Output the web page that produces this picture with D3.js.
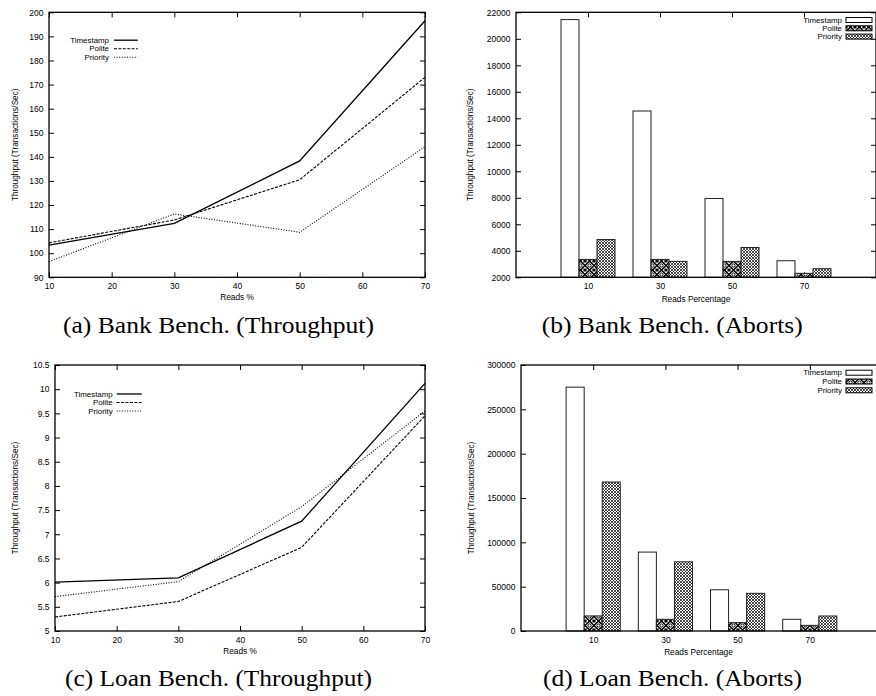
<!DOCTYPE html>
<html>
<head>
<meta charset="utf-8">
<script src="https://cdn.jsdelivr.net/npm/d3@7"></script>
<style>
  html, body { margin: 0; padding: 0; background: #fff; }
  svg { display: block; }
  .tick text { font-family: "Liberation Sans", Arial, sans-serif; font-size: 8.5px; fill: #000; }
</style>
</head>
<body>
<svg id="chart" width="876" height="696"></svg>
<script>
// ---------- DATA ----------
const seriesNames = ["Timestamp", "Polite", "Priority"];

// (a) Bank Bench. (Throughput)
const bankReads = [10, 30, 50, 70];
const bankThroughputTimestamp = [103.4, 112.4, 138.3, 196.5];
const bankThroughputPolite    = [104.3, 113.8, 130.5, 173.0];
const bankThroughputPriority  = [96.5, 116.3, 108.7, 144.2];
const bankThroughputYTicks = [90, 100, 110, 120, 130, 140, 150, 160, 170, 180, 190, 200];
const lineXTicks = [10, 20, 30, 40, 50, 60, 70];

// (b) Bank Bench. (Aborts)
const abortCategories = ["10", "30", "50", "70"];
const bankAbortsTimestamp = [21450, 14550, 7950, 3250];
const bankAbortsPolite    = [3350, 3350, 3200, 2300];
const bankAbortsPriority  = [4850, 3200, 4250, 2650];
const bankAbortsYTicks = [2000, 4000, 6000, 8000, 10000, 12000, 14000, 16000, 18000, 20000, 22000];

// (c) Loan Bench. (Throughput)
const loanReads = [10, 30, 50, 70];
const loanThroughputTimestamp = [6.01, 6.10, 7.27, 10.12];
const loanThroughputPolite    = [5.29, 5.61, 6.73, 9.45];
const loanThroughputPriority  = [5.71, 6.02, 7.57, 9.55];
const loanThroughputYTicks = [5, 5.5, 6, 6.5, 7, 7.5, 8, 8.5, 9, 9.5, 10, 10.5];

// (d) Loan Bench. (Aborts)
const loanAbortsTimestamp = [275000, 89000, 46500, 13200];
const loanAbortsPolite    = [17000, 13200, 9400, 6400];
const loanAbortsPriority  = [168000, 78000, 42500, 16900];
const loanAbortsYTicks = [0, 50000, 100000, 150000, 200000, 250000, 300000];

const captions = ["(a) Bank Bench. (Throughput)", "(b) Bank Bench. (Aborts)",
                  "(c) Loan Bench. (Throughput)", "(d) Loan Bench. (Aborts)"];
const xTitleLine = "Reads %";
const xTitleBar = "Reads Percentage";
const yTitle = "Throughput (Transactions/Sec)";

// ---------- DRAWING ----------
const svg = d3.select("#chart");
const defs = svg.append("defs");
const FONT = '"Liberation Sans", Arial, sans-serif';

// fill patterns for bars
const pPolite = defs.append("pattern").attr("id", "patPolite")
  .attr("patternUnits", "userSpaceOnUse").attr("width", 9).attr("height", 9);
pPolite.append("rect").attr("width", 9).attr("height", 9).attr("fill", "#fff");
pPolite.append("path").attr("d", "M0,4.5 L4.5,0 L9,4.5 L4.5,9 Z").attr("fill", "none").attr("stroke", "#000").attr("stroke-width", 1.5);
pPolite.append("circle").attr("cx", 4.5).attr("cy", 4.5).attr("r", 1.6).attr("fill", "none").attr("stroke", "#000").attr("stroke-width", 1);
pPolite.append("path").attr("d", "M0,0 h1.6 v1.6 h-1.6z M7.4,0 h1.6 v1.6 h-1.6z M0,7.4 h1.6 v1.6 h-1.6z M7.4,7.4 h1.6 v1.6 h-1.6z").attr("fill", "#000");

const pPriority = defs.append("pattern").attr("id", "patPriority")
  .attr("patternUnits", "userSpaceOnUse").attr("width", 3).attr("height", 3);
pPriority.append("rect").attr("width", 3).attr("height", 3).attr("fill", "#fff");
pPriority.append("path").attr("d", "M0,0 L3,3 M3,0 L0,3").attr("stroke", "#000").attr("stroke-width", 0.7);

const lineStyles = [
  { dash: null },
  { dash: "3,1.4" },
  { dash: "1,1.6" }
];
const barFills = ["#fff", "url(#patPolite)", "url(#patPriority)"];

function frame(g, L) {
  g.append("rect").attr("x", L.left).attr("y", L.top)
    .attr("width", L.right - L.left).attr("height", L.bottom - L.top)
    .attr("fill", "none").attr("stroke", "#000").attr("stroke-width", 1.3);
}

function styleAxis(sel) {
  sel.select(".domain").remove();
  sel.selectAll(".tick line").attr("stroke", "#000").attr("stroke-width", 1);
  sel.selectAll(".tick text").attr("font-family", FONT).attr("font-size", "8.5px");
}

function titles(g, L, xTitle, xTitleY, yTitleX) {
  g.append("text").attr("x", (L.left + Math.min(L.right, 876)) / 2).attr("y", xTitleY)
    .attr("text-anchor", "middle").attr("font-family", FONT).attr("font-size", "8.3px").text(xTitle);
  g.append("text")
    .attr("transform", `translate(${yTitleX},${(L.top + L.bottom) / 2}) rotate(-90)`)
    .attr("text-anchor", "middle").attr("dominant-baseline", "central")
    .attr("font-family", FONT).attr("font-size", "8.2px").text(yTitle);
}

function linePanel(L, xs, seriesVals, yDomain, yTicks, legendPos) {
  const g = svg.append("g");
  const x = d3.scaleLinear().domain([10, 70]).range([L.left, L.right]);
  const y = d3.scaleLinear().domain(yDomain).range([L.bottom, L.top]);

  g.append("g").attr("transform", `translate(${L.left},0)`)
    .call(d3.axisLeft(y).tickValues(yTicks).tickSizeInner(-5).tickSizeOuter(0).tickPadding(5.5).tickFormat(d3.format("")))
    .call(styleAxis);
  g.append("g").attr("transform", `translate(${L.right},0)`)
    .call(d3.axisRight(y).tickValues(yTicks).tickSizeInner(-5).tickSizeOuter(0).tickFormat(""))
    .call(styleAxis);
  g.append("g").attr("transform", `translate(0,${L.bottom})`)
    .call(d3.axisBottom(x).tickValues(lineXTicks).tickSizeInner(-5).tickSizeOuter(0).tickPadding(5.8).tickFormat(d3.format("")))
    .call(styleAxis);
  g.append("g").attr("transform", `translate(0,${L.top})`)
    .call(d3.axisTop(x).tickValues(lineXTicks).tickSizeInner(-5).tickSizeOuter(0).tickFormat(""))
    .call(styleAxis);

  const line = d3.line().x((d, i) => x(xs[i])).y(d => y(d));
  seriesVals.forEach((vals, k) => {
    g.append("path").datum(vals).attr("d", line)
      .attr("fill", "none").attr("stroke", "#000").attr("stroke-width", k === 0 ? 1.3 : 1.1)
      .attr("stroke-dasharray", lineStyles[k].dash);
  });

  // legend
  seriesNames.forEach((name, k) => {
    const yy = legendPos.y + k * legendPos.dy;
    g.append("text").attr("x", legendPos.textRight).attr("y", yy)
      .attr("text-anchor", "end").attr("dominant-baseline", "central")
      .attr("font-family", FONT).attr("font-size", "7.9px").text(name);
    g.append("line").attr("x1", legendPos.x1).attr("x2", legendPos.x2).attr("y1", yy).attr("y2", yy)
      .attr("stroke", "#000").attr("stroke-width", k === 0 ? 1.3 : 1.1)
      .attr("stroke-dasharray", lineStyles[k].dash);
  });

  frame(g, L);
  return g;
}

function barPanel(L, cats, seriesVals, yDomain, yTicks, legendPos) {
  const g = svg.append("g");
  const x = d3.scaleLinear().domain([-1, 4]).range([L.left, L.right]);
  const y = d3.scaleLinear().domain(yDomain).range([L.bottom, L.top]);
  const idx = cats.map((c, i) => i);

  g.append("g").attr("transform", `translate(${L.left},0)`)
    .call(d3.axisLeft(y).tickValues(yTicks).tickSizeInner(-5).tickSizeOuter(0).tickPadding(5.5).tickFormat(d3.format("")))
    .call(styleAxis);
  g.append("g").attr("transform", `translate(${L.right},0)`)
    .call(d3.axisRight(y).tickValues(yTicks).tickSizeInner(-5).tickSizeOuter(0).tickFormat(""))
    .call(styleAxis);
  g.append("g").attr("transform", `translate(0,${L.bottom})`)
    .call(d3.axisBottom(x).tickValues(idx).tickSizeInner(-5).tickSizeOuter(0).tickPadding(5.8).tickFormat(i => cats[i]))
    .call(styleAxis);
  g.append("g").attr("transform", `translate(0,${L.top})`)
    .call(d3.axisTop(x).tickValues(idx).tickSizeInner(-5).tickSizeOuter(0).tickFormat(""))
    .call(styleAxis);

  const bw = 0.25;
  seriesVals.forEach((vals, k) => {
    g.selectAll(null).data(vals).enter().append("rect")
      .attr("x", (d, i) => x(i - 0.375 + k * bw))
      .attr("width", x(bw) - x(0))
      .attr("y", d => y(d))
      .attr("height", d => y(yDomain[0]) - y(d))
      .attr("fill", barFills[k])
      .attr("stroke", "#222").attr("stroke-width", 1);
  });

  seriesNames.forEach((name, k) => {
    const yy = legendPos.y + k * legendPos.dy;
    g.append("text").attr("x", legendPos.textRight).attr("y", yy)
      .attr("text-anchor", "end").attr("dominant-baseline", "central")
      .attr("font-family", FONT).attr("font-size", "7.9px").text(name);
    g.append("rect").attr("x", legendPos.x1).attr("y", yy - 2.5)
      .attr("width", legendPos.x2 - legendPos.x1).attr("height", 5)
      .attr("fill", barFills[k]).attr("stroke", "#000").attr("stroke-width", 1);
  });

  frame(g, L);
  return g;
}

// layouts
const LA = { left: 49, right: 425, top: 12.3, bottom: 277.3 };
const LB = { left: 516, right: 876, top: 12.3, bottom: 277.3 };
const LC = { left: 55, right: 425, top: 365, bottom: 631 };
const LD = { left: 521, right: 882, top: 365, bottom: 631 };

const gA = linePanel(LA, bankReads,
  [bankThroughputTimestamp, bankThroughputPolite, bankThroughputPriority],
  [90, 200], bankThroughputYTicks,
  { y: 40.2, dy: 8.5, textRight: 109, x1: 114, x2: 137.7 });
titles(gA, LA, xTitleLine, 300, 15);

const gB = barPanel(LB, abortCategories,
  [bankAbortsTimestamp, bankAbortsPolite, bankAbortsPriority],
  [2000, 22000], bankAbortsYTicks,
  { y: 20, dy: 8.3, textRight: 842, x1: 846, x2: 872 });
titles(gB, { left: 516, right: 876, top: 12.3, bottom: 277.3 }, xTitleBar, 301.5, 470.5);

const gC = linePanel(LC, loanReads,
  [loanThroughputTimestamp, loanThroughputPolite, loanThroughputPriority],
  [5, 10.5], loanThroughputYTicks,
  { y: 394, dy: 8.5, textRight: 112.7, x1: 116.7, x2: 141.7 });
titles(gC, LC, xTitleLine, 654, 15.5);

const gD = barPanel(LD, abortCategories,
  [loanAbortsTimestamp, loanAbortsPolite, loanAbortsPriority],
  [0, 300000], loanAbortsYTicks,
  { y: 372.7, dy: 8.8, textRight: 842, x1: 846, x2: 872 });
titles(gD, { left: 521, right: 876, top: 365, bottom: 631 }, xTitleBar, 655, 471);

// captions
const capPos = [
  { x: 63, y: 333, w: 311 },
  { x: 541.7, y: 333, w: 261 },
  { x: 65, y: 686, w: 307 },
  { x: 543, y: 686, w: 259 }
];
captions.forEach((c, i) => {
  svg.append("text").attr("x", capPos[i].x).attr("y", capPos[i].y)
    .attr("font-family", '"Liberation Serif", "Times New Roman", serif')
    .attr("font-size", "23px")
    .attr("textLength", capPos[i].w).attr("lengthAdjust", "spacingAndGlyphs")
    .text(c);
});
</script>
</body>
</html>
